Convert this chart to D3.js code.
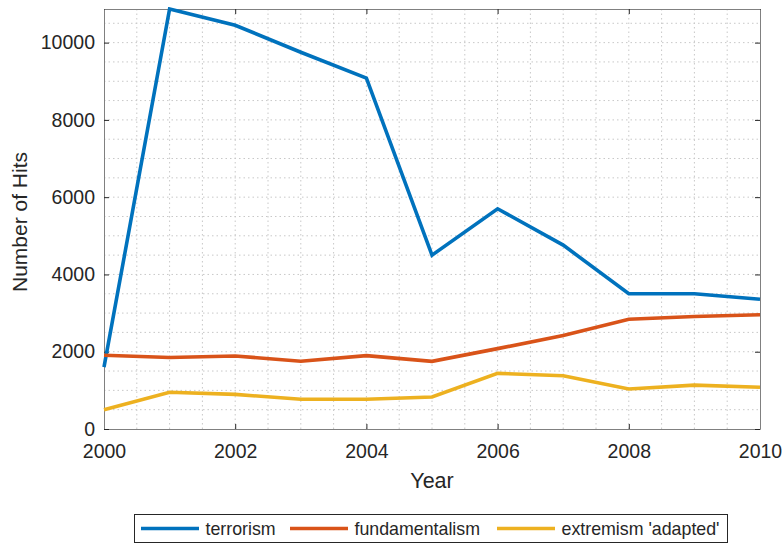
<!DOCTYPE html>
<html>
<head>
<meta charset="utf-8">
<script src="https://cdn.jsdelivr.net/npm/d3@7"></script>
<style>
  html, body { margin: 0; padding: 0; background: #fff; }
  svg { display: block; font-family: "Liberation Sans", Arial, Helvetica, sans-serif; }
</style>
</head>
<body>
<svg id="chart" width="784" height="544"></svg>
<script>
// Yearly hit counts per search term
const years = [2000, 2001, 2002, 2003, 2004, 2005, 2006, 2007, 2008, 2009, 2010];
const terrorism = [1600, 10870, 10450, 9750, 9080, 4500, 5700, 4760, 3500, 3500, 3360];
const fundamentalism = [1910, 1850, 1890, 1755, 1900, 1750, 2080, 2420, 2840, 2910, 2955];
const extremism = [500, 950, 895, 770, 770, 830, 1440, 1380, 1035, 1135, 1080];
const seriesNames = ["terrorism", "fundamentalism", "extremism 'adapted'"];
const seriesColors = ["#0072BD", "#D95319", "#EDB120"];
const xTicks = [2000, 2002, 2004, 2006, 2008, 2010];
const yTicks = [0, 2000, 4000, 6000, 8000, 10000];

const svg = d3.select("#chart");
const m = { left: 104, right: 760, top: 9, bottom: 429 };
const yMax = d3.max(terrorism);

const x = d3.scaleLinear().domain([2000, 2010]).range([m.left, m.right]);
const y = d3.scaleLinear().domain([0, yMax]).range([m.bottom, m.top]);

const axisColor = "#808080";
const textColor = "#262626";
const gridColor = "#c8c8c8";

// Grid: minor every half year / 500 hits
const gx = d3.range(2000.5, 2010, 0.5);
const gy = d3.range(500, yMax, 500);
const grid = svg.append("g");
grid.selectAll("line.vx").data(gx).join("line")
  .attr("x1", d => x(d)).attr("x2", d => x(d))
  .attr("y1", m.top).attr("y2", m.bottom)
  .attr("stroke", gridColor).attr("stroke-width", 1).attr("stroke-dasharray", "1.5,3");
grid.selectAll("line.hy").data(gy).join("line")
  .attr("y1", d => y(d)).attr("y2", d => y(d))
  .attr("x1", m.left).attr("x2", m.right)
  .attr("stroke", gridColor).attr("stroke-width", 1).attr("stroke-dasharray", "1.5,3");

// Axes (ticks drawn inward, box on all sides)
const xAxisB = d3.axisBottom(x).tickValues(xTicks).tickFormat(d3.format("d")).tickSizeInner(-5).tickSizeOuter(0).tickPadding(15);
const xAxisT = d3.axisTop(x).tickValues(xTicks).tickFormat("").tickSizeInner(-5).tickSizeOuter(0);
const yAxisL = d3.axisLeft(y).tickValues(yTicks).tickFormat(d3.format("d")).tickSizeInner(-5).tickSizeOuter(0).tickPadding(9);
const yAxisR = d3.axisRight(y).tickValues(yTicks).tickFormat("").tickSizeInner(-5).tickSizeOuter(0);

function styleAxis(g) {
  g.select(".domain").attr("stroke", axisColor).attr("stroke-width", 1);
  g.selectAll(".tick line").attr("stroke", textColor).attr("stroke-width", 1);
  g.selectAll(".tick text").attr("fill", textColor).attr("font-size", 19.5)
    .attr("font-family", "Liberation Sans, Arial, sans-serif");
}
svg.append("g").attr("transform", `translate(0,${m.bottom})`).call(xAxisB).call(styleAxis);
svg.append("g").attr("transform", `translate(0,${m.top})`).call(xAxisT).call(styleAxis);
svg.append("g").attr("transform", `translate(${m.left},0)`).call(yAxisL).call(styleAxis);
svg.append("g").attr("transform", `translate(${m.right},0)`).call(yAxisR).call(styleAxis);

// Lines
const data = [terrorism, fundamentalism, extremism];
const line = d3.line().x((d, i) => x(years[i])).y(d => y(d));
svg.append("clipPath").attr("id", "plotclip").append("rect")
  .attr("x", m.left - 2).attr("y", m.top - 2)
  .attr("width", m.right - m.left + 4).attr("height", m.bottom - m.top + 4);
svg.append("g").attr("clip-path", "url(#plotclip)")
  .selectAll("path").data(data).join("path")
  .attr("d", line)
  .attr("fill", "none")
  .attr("stroke", (d, i) => seriesColors[i])
  .attr("stroke-width", 3.6)
  .attr("stroke-linejoin", "miter");

// Axis labels
svg.append("text").attr("x", (m.left + m.right) / 2).attr("y", 488)
  .attr("text-anchor", "middle").attr("fill", textColor).attr("font-size", 21.5).text("Year");
svg.append("text").attr("transform", `translate(27,222) rotate(-90)`)
  .attr("text-anchor", "middle").attr("fill", textColor).attr("font-size", 21).text("Number of Hits");

// Legend
const legend = svg.append("g");
legend.append("rect").attr("x", 134.5).attr("y", 514.5).attr("width", 593).attr("height", 28)
  .attr("fill", "#fff").attr("stroke", "#262626").attr("stroke-width", 1);
const lx = [141, 290, 497];
seriesNames.forEach((name, i) => {
  legend.append("line").attr("x1", lx[i]).attr("x2", lx[i] + 58)
    .attr("y1", 528.5).attr("y2", 528.5)
    .attr("stroke", seriesColors[i]).attr("stroke-width", 3.6);
  legend.append("text").attr("x", lx[i] + 64.5).attr("y", 535)
    .attr("fill", textColor).attr("font-size", 17.8).text(name);
});
</script>
</body>
</html>
